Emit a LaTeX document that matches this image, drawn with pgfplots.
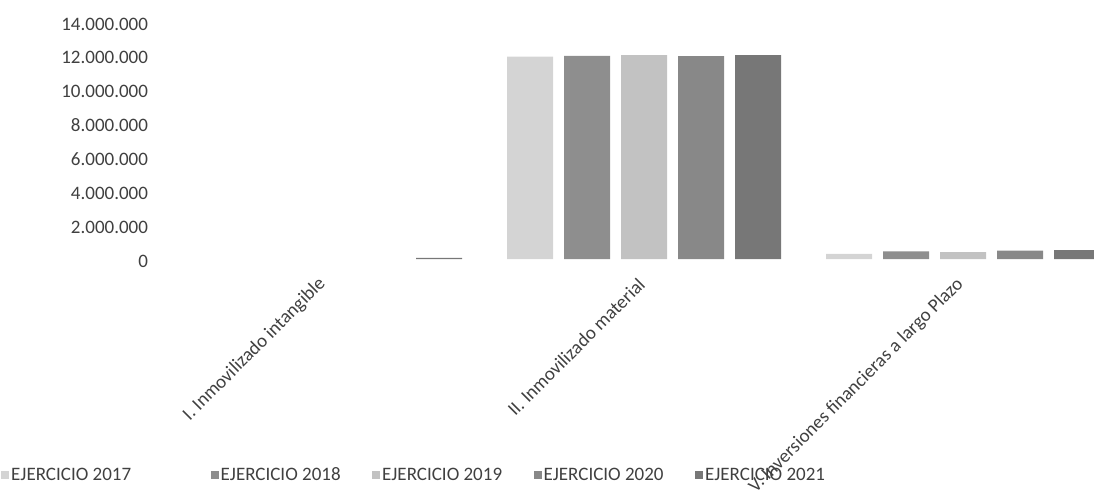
\documentclass[border=0pt]{standalone}
\usepackage{pgfplots}
\pgfplotsset{compat=1.18}
\usepackage{fontspec}
\setmainfont{Carlito}
\definecolor{txt}{HTML}{404040}
\definecolor{c17}{HTML}{D4D4D4}
\definecolor{c18}{HTML}{8E8E8E}
\definecolor{c19}{HTML}{C2C2C2}
\definecolor{c20}{HTML}{888888}
\definecolor{c21}{HTML}{777777}
\pgfplotsset{sqleg/.style={legend image code/.code={\fill[##1] (0bp,-4bp) rectangle (8bp,4bp);}}}
\begin{document}
\begin{tikzpicture}
\useasboundingbox (0,0) rectangle (1094bp,496bp);
\begin{axis}[
  at={(165.5bp,237bp)}, anchor=south west,
  scale only axis, width=957bp, height=237bp,
  xmin=-0.5, xmax=2.5, ymin=0, ymax=14000000,
  axis line style={draw=none}, major tick length=0pt,
  ybar=11bp, bar width=46bp,
  xtick={0,1,2},
  xticklabels={I. Inmovilizado intangible, II. Inmovilizado material, V. Inversiones financieras a largo Plazo},
  ytick={0,2000000,4000000,6000000,8000000,10000000,12000000,14000000},
  scaled y ticks=false,
  /pgf/number format/assume math mode=true,
  /pgf/number format/fixed,
  /pgf/number format/precision=0,
  /pgf/number format/1000 sep={.},
  yticklabel style={xshift=-14bp, yshift=-2bp},
  xticklabel style={yshift=-20bp, rotate=45, anchor=east},
  tick label style={font=\fontsize{19bp}{23bp}\selectfont, text=txt},
  legend style={at={(-0.175,-0.9114)}, anchor=west, draw=none, fill=none,
    font=\fontsize{19bp}{23bp}\selectfont, text=txt,
    /tikz/every even column/.append style={column sep=29.5bp}},
  legend columns=5, legend cell align=left,
]
\addplot[fill=c17, draw=none, sqleg] coordinates {(1,11950000) (2,300000)};
\addplot[fill=c18, draw=none, sqleg] coordinates {(1,12000000) (2,450000)};
\addplot[fill=c19, draw=none, sqleg] coordinates {(1,12050000) (2,400000)};
\addplot[fill=c20, draw=none, sqleg] coordinates {(1,11980000) (2,500000)};
\addplot[fill=c21, draw=none, sqleg] coordinates {(0,70000) (1,12050000) (2,520000)};
\legend{EJERCICIO 2017\rule{48bp}{0pt}, EJERCICIO 2018, EJERCICIO 2019, EJERCICIO 2020, EJERCICIO 2021}
\end{axis}
\end{tikzpicture}
\end{document}
